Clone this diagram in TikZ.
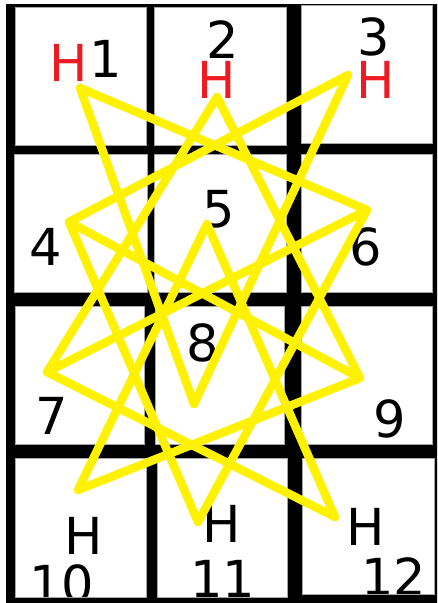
\documentclass[tikz,border=0pt]{standalone}
\usepackage{fontspec}
\setmainfont{DejaVu Sans}
\definecolor{pred}{RGB}{237,28,36}
\definecolor{pyel}{RGB}{255,242,0}
\begin{document}
\begin{tikzpicture}[x=1pt,y=-1pt,
  lbl/.style={inner sep=0pt,font=\fontsize{51}{60}\selectfont,text=black},
  hred/.style={lbl,text=pred},
  ystar/.style={draw=pyel,line width=8.5pt,line cap=round,line join=round},
  cellline/.style={draw=black!35,line width=0.7pt}]
\useasboundingbox (0,0) rectangle (438,603);
\fill[white] (0,0) rectangle (438,603);
% texts
\node[hred] (h1) at (69,63) {H};
\node[lbl] (n1) at (106,59) {1};
\node[lbl] (n2) at (223,40) {2};
\node[hred] (h2) at (217,80) {H};
\node[lbl] (n3) at (374,37) {3};
\node[hred] (h3) at (376,80) {H};
\node[lbl] (n4) at (46,247) {4};
\node[lbl] (n5) at (219,209) {5};
\node[lbl] (n6) at (366,247) {6};
\node[lbl] (n7) at (52,416) {7};
\node[lbl] (n8) at (203,343) {8};
\node[lbl] (n9) at (390,419) {9};
\node[lbl] (h10) at (84,536) {H};
\node[lbl] (n10) at (62,584) {10};
\node[lbl] (h11) at (222,524) {H};
\node[lbl] (n11) at (223,579) {11};
\node[lbl] (h12) at (366,527) {H};
\node[lbl] (n12) at (394,577) {12};
% black grid frame with cell holes
\fill[black,even odd rule] (6,4) rectangle (437,603)
  (15,7) rectangle (146,145) (154,7) rectangle (286,145) (301,5) rectangle (432,143)
  (14,154) rectangle (147,292) (154,154) rectangle (286,292) (301,154) rectangle (432,292)
  (15,306) rectangle (144,444) (155,306) rectangle (284,444) (301,306) rectangle (432,444)
  (15,458) rectangle (146,597) (157,458) rectangle (287,597) (302,458) rectangle (434,594);
\path[cellline]
  (15,7) rectangle (146,145) (154,7) rectangle (286,145) (301,5) rectangle (432,143)
  (14,154) rectangle (147,292) (154,154) rectangle (286,292) (301,154) rectangle (432,292)
  (15,306) rectangle (144,444) (155,306) rectangle (284,444) (301,306) rectangle (432,444)
  (15,458) rectangle (146,597) (157,458) rectangle (287,597) (302,458) rectangle (434,594);
% star points
\coordinate (p1) at (80,88);
\coordinate (p2) at (217,97);
\coordinate (p3) at (348,75);
\coordinate (p4) at (69,222);
\coordinate (p5) at (207,224);
\coordinate (p6) at (367,210);
\coordinate (p7) at (47,372);
\coordinate (p8) at (194,404);
\coordinate (p9) at (360,378);
\coordinate (p10) at (78,490);
\coordinate (p11) at (198,522);
\coordinate (p12) at (335,517);
\draw[ystar] (p6) -- (p1) -- (p8) -- (p3) -- (p4) -- (p9) -- (p2) -- (p7) -- (p6) -- (p11) -- (p4);
\draw[ystar] (p12) -- (p7);
\draw[ystar] (p12) -- (p5) -- (p10) -- (p9);
\end{tikzpicture}
\end{document}
